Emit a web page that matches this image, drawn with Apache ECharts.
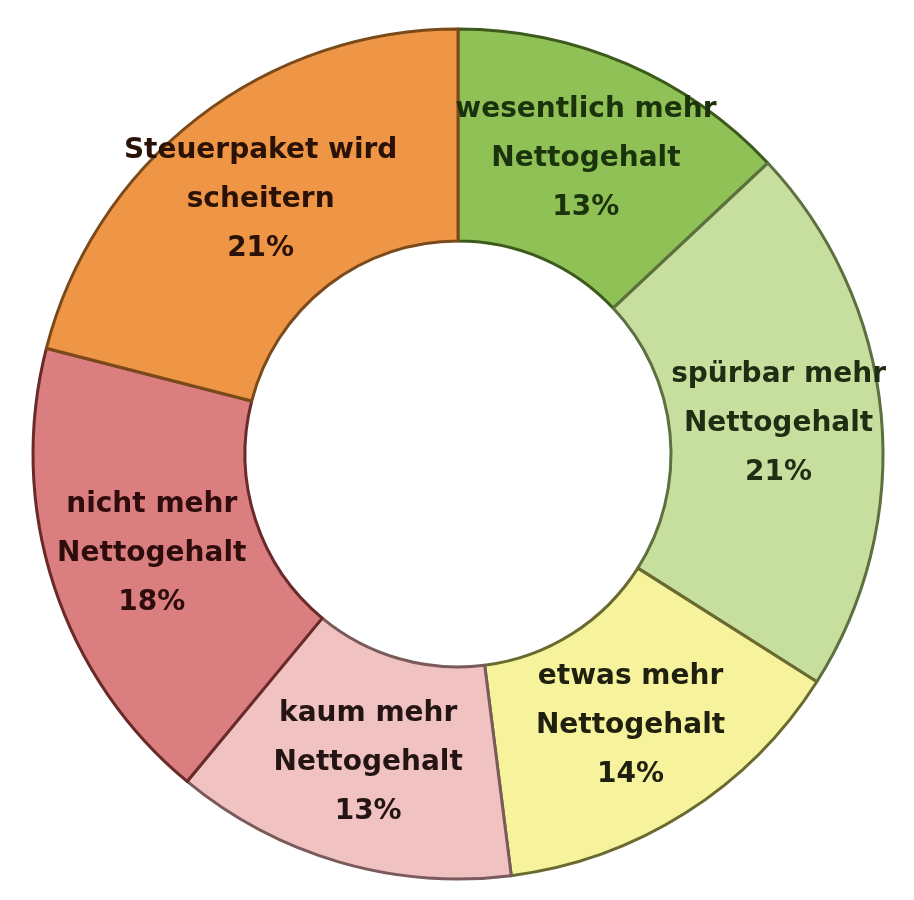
<!DOCTYPE html>
<html>
<head>
<meta charset="utf-8">
<script src="https://cdn.jsdelivr.net/npm/echarts@6/dist/echarts.min.js"></script>
<style>
html,body{margin:0;padding:0;background:#ffffff;}
#chart{width:914px;height:900px;}
</style>
</head>
<body>
<div id="chart"></div>
<script>
var categories = [
  'wesentlich mehr\nNettogehalt',
  'spürbar mehr\nNettogehalt',
  'etwas mehr\nNettogehalt',
  'kaum mehr\nNettogehalt',
  'nicht mehr\nNettogehalt',
  'Steuerpaket wird\nscheitern'
];
var values = [13, 21, 14, 13, 18, 21];
var fillColors = ['#90c156', '#c7df9e', '#f6f39c', '#f0c2c2', '#da7e7f', '#ef9646'];
var edgeColors = ['#3c5a1c', '#5d7040', '#6a6a30', '#7a5a5a', '#6a2a2a', '#7a4a1a'];
var textColors = ['#1b330c', '#1e2e12', '#202010', '#241414', '#2e0c0c', '#2a1206'];

var chart = echarts.init(document.getElementById('chart'));
var data = categories.map(function (c, i) {
  return {
    name: c,
    value: values[i],
    itemStyle: { color: fillColors[i], borderColor: edgeColors[i] },
    label: { color: textColors[i] }
  };
});
chart.setOption({
  animation: false,
  series: [{
    type: 'pie',
    center: [458, 454],
    radius: [213, 425],
    startAngle: 90,
    clockwise: true,
    avoidLabelOverlap: false,
    itemStyle: { borderWidth: 3 },
    label: {
      show: true,
      position: 'inside',
      formatter: '{b}\n{c}%',
      fontFamily: 'DejaVu Sans',
      fontWeight: 'bold',
      fontSize: 28,
      lineHeight: 49
    },
    labelLine: { show: false },
    emphasis: { disabled: true },
    data: data
  }]
});
</script>
</body>
</html>
